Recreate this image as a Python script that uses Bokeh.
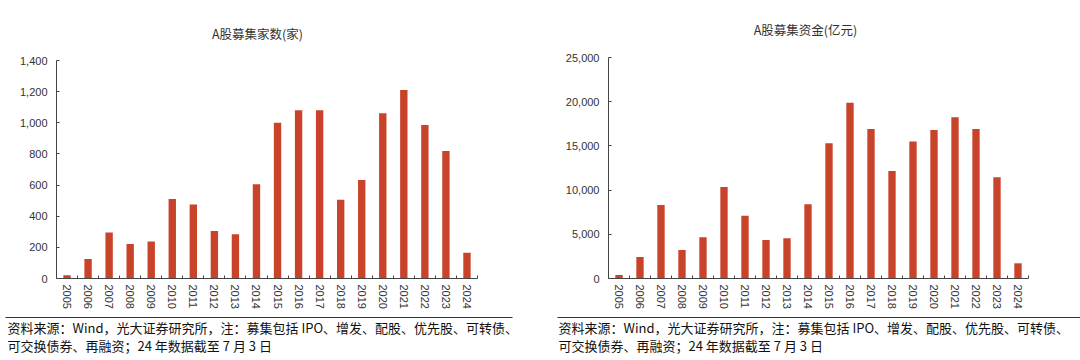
import math
from bokeh.plotting import figure
from bokeh.models import (Range1d, FixedTicker, NumeralTickFormatter, LinearAxis,
                          ColumnDataSource)
from bokeh.layouts import row
from bokeh.embed import file_html
from bokeh.resources import INLINE

years = ["2005", "2006", "2007", "2008", "2009", "2010", "2011", "2012", "2013", "2014",
         "2015", "2016", "2017", "2018", "2019", "2020", "2021", "2022", "2023", "2024"]
counts = [21, 125, 295, 221, 237, 510, 475, 305, 284, 606,
          1000, 1080, 1080, 505, 632, 1062, 1211, 985, 819, 166]
funds = [400, 2430, 8320, 3230, 4660, 10360, 7110, 4360, 4550, 8400,
         15300, 19870, 16920, 12170, 15490, 16810, 18250, 16920, 11450, 1720]

title_left = "A股募集家数(家)"
title_right = "A股募集资金(亿元)"
y_ticks_left = [0, 200, 400, 600, 800, 1000, 1200, 1400]
y_ticks_right = [0, 5000, 10000, 15000, 20000, 25000]
note_line1 = "资料来源：Wind，光大证券研究所，注：募集包括 IPO、增发、配股、优先股、可转债、"
note_line2 = "可交换债券、再融资；24 年数据截至 7 月 3 日"

BAR = "#C9432A"
TXT = "#333333"
AXC = "#444444"
FONT = "Liberation Sans"
CJK = "Noto Sans CJK SC"
W, H = 540, 360


def chart(vals, yticks, title, ax_l, ax_r, y_zero, y_top, title_xy, note_x, rule_x):
    n = len(years)
    ymax = yticks[-1]
    u = n / (ax_r - ax_l)                 # data units per pixel (x)
    v = ymax / (y_zero - y_top)           # data units per pixel (y)
    xs = -0.5 - ax_l * u
    ye = ymax + y_top * v
    p = figure(width=W, height=H, output_backend="svg", toolbar_location=None,
               x_axis_type=None, y_axis_type=None,
               x_range=Range1d(xs, xs + W * u), y_range=Range1d(ye - H * v, ye),
               min_border=0)
    p.min_border_left = p.min_border_right = p.min_border_top = p.min_border_bottom = 0
    p.grid.visible = False
    p.outline_line_color = None

    def px(x):
        return xs + x * u

    def py(y):
        return ye - y * v

    src = ColumnDataSource(dict(x=list(range(n)), top=vals))
    p.vbar(x="x", top="top", width=0.35, bottom=0, source=src,
           fill_color=BAR, line_color=None)

    xa = LinearAxis(fixed_location=0, bounds=(-0.5, n - 0.5))
    xa.ticker = FixedTicker(ticks=list(range(n)),
                            minor_ticks=[i - 0.5 for i in range(n + 1)])
    xa.major_label_overrides = {i: y for i, y in enumerate(years)}
    xa.major_label_orientation = -math.pi / 2
    xa.major_tick_in = 0
    xa.major_tick_out = 0
    xa.minor_tick_in = 3
    xa.minor_tick_out = 0
    xa.minor_tick_line_color = AXC
    xa.axis_line_color = AXC
    xa.major_label_standoff = 6
    xa.major_label_text_font = FONT
    xa.major_label_text_font_size = "11px"
    xa.major_label_text_color = TXT
    p.add_layout(xa, "below")

    ya = LinearAxis(fixed_location=-0.5, bounds=(0, ymax))
    ya.ticker = FixedTicker(ticks=yticks, minor_ticks=[])
    ya.formatter = NumeralTickFormatter(format="0,0")
    ya.major_tick_in = 3
    ya.major_tick_out = 0
    ya.minor_tick_in = 0
    ya.minor_tick_out = 0
    ya.axis_line_color = AXC
    ya.major_tick_line_color = AXC
    ya.major_label_standoff = 9
    ya.major_label_text_font = FONT
    ya.major_label_text_font_size = "11px"
    ya.major_label_text_color = TXT
    p.add_layout(ya, "left")

    p.text(x=[px(title_xy[0])], y=[py(title_xy[1])], text=[title],
           text_align="center", text_baseline="middle",
           text_font={"value": CJK}, text_font_size="12.5px", text_color=TXT)

    p.segment(x0=[px(rule_x[0])], x1=[px(rule_x[1])], y0=[py(317)], y1=[py(317)],
              line_color="#333333", line_width=1)
    p.text(x=[px(note_x)] * 2, y=[py(327), py(345)], text=[note_line1, note_line2],
           text_align="left", text_baseline="middle",
           text_font={"value": CJK}, text_font_size="13px", text_color="#111111")
    return p


left = chart(counts, y_ticks_left, title_left, 56, 477, 278, 60, (257, 33), 7, (5, 512))
right = chart(funds, y_ticks_right, title_right, 68, 488, 278, 57, (265, 29), 18, (17, 540))

layout = row(left, right, spacing=0)

open("out.html", "w").write(file_html(layout, INLINE))
